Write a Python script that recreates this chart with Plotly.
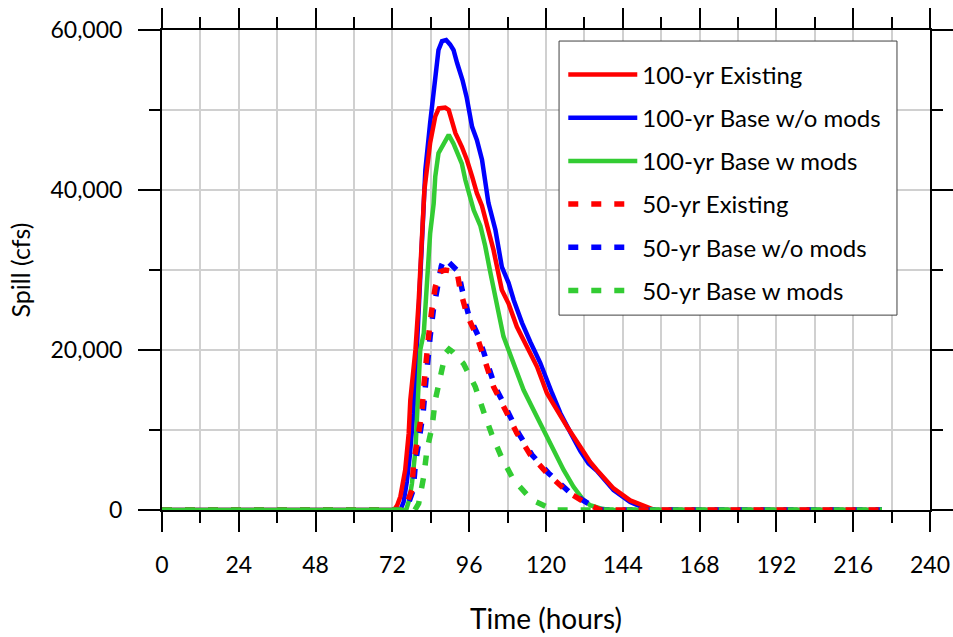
import plotly.graph_objects as go

# Spillway outflow hydrographs (hours, cfs)
t_100_existing = [0, 72.5, 73.5, 74.5, 76, 77.1, 77.6, 78.6, 79.2, 80.2, 81.2, 82.0, 83.8, 85.4, 86.5,
                  87.5, 88.5, 89.6, 90.6, 91.7, 93.7, 95.3, 96.9, 98.4, 100, 101.6, 103.6, 106.2,
                  108.3, 110.9, 114.1, 117.2, 120.3, 123.4, 126.6, 130.7, 133.8, 135.9, 141.1,
                  146.3, 151.5, 154, 225]
q_100_existing = [0, 0, 600, 1700, 5000, 9600, 13750, 17900, 20000, 26000, 33000, 40000, 45900, 49200,
                  50200, 50300, 50300, 50000, 48750, 47100, 45400, 43750, 41700, 39600, 38000, 35400,
                  32500, 27500, 25800, 22900, 20400, 17900, 14600, 12500, 10400, 7900, 6000, 5000,
                  2700, 1200, 350, 0, 0]

t_100_base = [0, 74.5, 75.5, 76.5, 77.5, 78.5, 79.5, 80.5, 81.2, 82.3, 83.8, 85.2, 86.4, 87.5, 88.8,
              90, 91.1, 92.2, 93.9, 95.2, 96.9, 98.4, 100, 102, 104.2, 106.2, 108.3, 109.9, 112.5,
              115.1, 118.2, 121.9, 124.5, 127.6, 130.7, 133.3, 135.9, 141.1, 146.3, 150.4, 153, 225]
q_100_base = [0, 0, 1000, 3500, 7000, 12000, 19000, 28000, 35000, 42500, 48400, 53750, 57500, 58600,
              58750, 58200, 57500, 55900, 53750, 51600, 47900, 46250, 43800, 38400, 35000, 30400,
              28400, 26250, 23400, 21000, 18400, 14600, 12100, 9700, 7400, 5800, 4900, 2500, 1000,
              300, 0, 0]

t_100_mods = [0, 76.3, 77.2, 78.1, 79.2, 79.7, 80.2, 80.7, 81.8, 82.8, 83.8, 84.9, 85.4, 86.4, 87.9,
              89.6, 91.1, 92.2, 93.7, 94.8, 96.3, 97.4, 99.5, 101, 102.6, 104.7, 106.7, 108.3, 109.9,
              113, 116.1, 119.2, 122.4, 125.5, 128.6, 131.7, 133.8, 137, 140, 225]
q_100_mods = [0, 0, 1200, 3300, 7500, 11700, 15800, 20000, 22100, 28300, 34600, 38300, 41700, 44600,
              45800, 46900, 45800, 44600, 43300, 41250, 39200, 37500, 35500, 33000, 29700, 25400,
              21700, 20000, 18300, 15000, 12500, 10000, 7500, 5000, 2900, 1250, 600, 200, 0, 0]

t_50_existing = [0, 75.5, 76.5, 78.1, 78.6, 80.2, 81.2, 81.8, 82.3, 83.3, 84.3, 85.4, 87, 88.5, 90,
                 92.2, 93.2, 95.3, 98.4, 101, 103.6, 107.3, 110.9, 115.1, 120.3, 126.6, 132.8, 137, 225]
q_50_existing = [0, 0, 800, 2500, 5800, 9200, 12100, 15400, 18300, 21700, 25000, 27900, 29800, 30000,
                 29900, 29800, 27500, 24400, 21700, 18700, 15400, 12500, 9600, 6900, 4600, 2300, 800,
                 0, 0]

t_50_base = [0, 76, 77, 78.5, 79.2, 80.7, 81.6, 82.3, 82.8, 83.8, 84.8, 86, 87.3, 88.3, 89.5, 91,
             92.6, 93.8, 95.8, 98.9, 101.5, 104.1, 107.8, 111.4, 115.6, 120.8, 127.1, 133.3, 137.5, 225]
q_50_base = [0, 0, 800, 2500, 5800, 9200, 12100, 15400, 18300, 21700, 25000, 27900, 30500, 31500,
             31000, 30300, 29800, 27500, 24400, 21700, 18700, 15400, 12500, 9600, 6900, 4600, 2300,
             800, 0, 0]

t_50_mods = [0, 79, 80.2, 81.8, 82.8, 84.4, 85.4, 87, 88.6, 89.7, 91, 94.2, 97.9, 100.5, 103.1,
             106.2, 109.9, 115.6, 122.4, 225]
q_50_mods = [0, 0, 800, 4200, 7500, 10400, 13750, 17100, 19600, 20100, 19700, 18300, 15400, 12300,
             9400, 6500, 3750, 1250, 0, 0]

x_ticks = [0, 24, 48, 72, 96, 120, 144, 168, 192, 216, 240]
y_ticks = [0, 20000, 40000, 60000]

RED, BLUE, GREEN = "#ff0000", "#0000ff", "#33cc33"
FONT = "Lato"
DASH = "10px,13px"

# (name, times, flows, colour, dash, legend rank) in drawing order
series = [
    ("100-yr Base w/o mods", t_100_base, q_100_base, BLUE, "solid", 2),
    ("100-yr Existing", t_100_existing, q_100_existing, RED, "solid", 1),
    ("100-yr Base w mods", t_100_mods, q_100_mods, GREEN, "solid", 3),
    ("50-yr Base w/o mods", t_50_base, q_50_base, BLUE, DASH, 5),
    ("50-yr Existing", t_50_existing, q_50_existing, RED, DASH, 4),
    ("50-yr Base w mods", t_50_mods, q_50_mods, GREEN, DASH, 6),
]

fig = go.Figure()
for name, t, q, color, dash, rank in series:
    fig.add_trace(go.Scatter(
        x=t, y=q, mode="lines", name=name,
        line=dict(color=color, width=4.5 if dash == "solid" else 5.5, dash=dash),
        legendgroup=name, legendrank=rank,
    ))

# Framed white panel behind the legend entries
fig.add_shape(
    type="rect", xref="paper", yref="paper",
    x0=0.517, x1=0.957, y0=0.406, y1=0.977,
    line=dict(color="#404040", width=1), fillcolor="white", layer="above",
)

axis_common = dict(
    ticks="outside", tickwidth=2, tickcolor="black", automargin=False,
    showline=True, linecolor="black", linewidth=2, mirror="allticks",
    showgrid=True, gridcolor="#d0d0d0", gridwidth=2, zeroline=False,
    tickfont=dict(family=FONT, size=23, color="black"),
)

fig.update_layout(
    width=953, height=637,
    margin=dict(l=162, r=23, t=30, b=127),
    paper_bgcolor="white", plot_bgcolor="white",
    font=dict(family=FONT, color="black"),
    showlegend=True,
    legend=dict(
        x=0.5225, y=0.975, xanchor="left", yanchor="top",
        bgcolor="rgba(0,0,0,0)", borderwidth=0,
        font=dict(family=FONT, size=24, color="black"),
        title=dict(text=" ", font=dict(family=FONT, size=8)),
        tracegroupgap=9, itemwidth=69,
    ),
    xaxis=dict(
        range=[0, 240], tickmode="array", tickvals=x_ticks, ticklen=20, ticklabelstandoff=13,
        minor=dict(dtick=12, ticks="outside", ticklen=11, tickwidth=2, tickcolor="black",
                   showgrid=True, gridcolor="#d0d0d0", gridwidth=2),
        title=dict(text="Time (hours)", font=dict(family=FONT, size=28), standoff=33),
        **axis_common,
    ),
    yaxis=dict(
        range=[0, 60000], tickmode="array", tickvals=y_ticks, tickformat=",", ticklen=22,
        ticklabelstandoff=11,
        minor=dict(dtick=10000, ticks="outside", ticklen=11, tickwidth=2, tickcolor="black",
                   showgrid=True, gridcolor="#d0d0d0", gridwidth=2),
        title=dict(text="Spill (cfs)", font=dict(family=FONT, size=25), standoff=13),
        **axis_common,
    ),
)

fig.write_html("out.html")
